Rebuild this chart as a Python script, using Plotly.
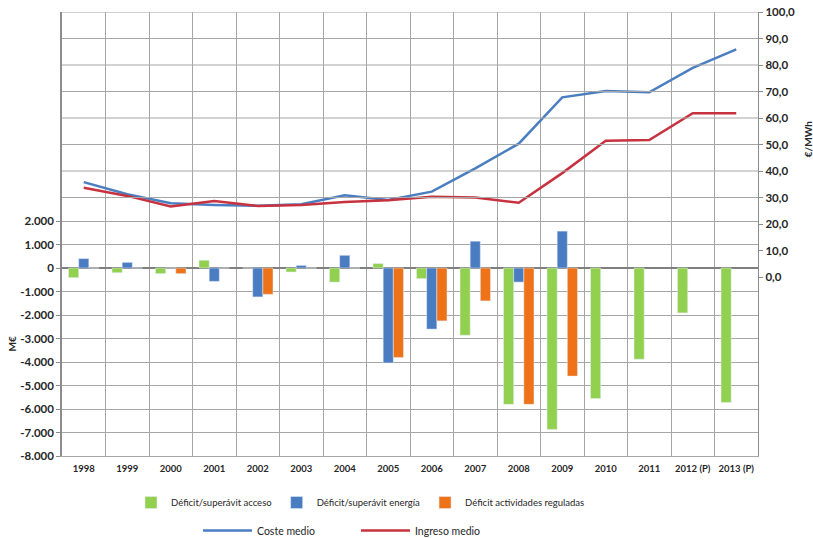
import plotly.graph_objects as go

# Categories (years; last two are forecasts)
years = ["1998", "1999", "2000", "2001", "2002", "2003", "2004", "2005",
         "2006", "2007", "2008", "2009", "2010", "2011", "2012 (P)", "2013 (P)"]

# Annual deficit / surplus, M€
deficit_acceso = [-410, -200, -240, 330, 0, -170, -600, 190,
                  -450, -2860, -5800, -6870, -5550, -3880, -1910, -5720]
deficit_energia = [400, 240, 0, -570, -1230, 110, 540, -4040,
                   -2600, 1140, -600, 1570, None, None, None, None]
deficit_reguladas = [0, 0, -240, 0, -1120, 0, 0, -3810,
                     -2250, -1400, -5800, -4600, None, None, None, None]

# Average cost and average revenue, €/MWh
coste_medio = [35.8, 31.2, 27.8, 27.2, 26.9, 27.5, 30.8, 29.1,
               32.2, 41.0, 50.3, 67.8, 70.2, 69.7, 78.9, 85.9]
ingreso_medio = [33.7, 30.6, 26.6, 28.7, 26.8, 27.2, 28.3, 29.0,
                 30.3, 30.0, 28.0, 39.2, 51.4, 51.7, 61.8, 61.8]

# Axis ticks
left_ticks = [2000, 1000, 0, -1000, -2000, -3000, -4000, -5000, -6000, -7000, -8000]
left_labels = ["2.000", "1.000", "0", "-1.000", "-2.000", "-3.000", "-4.000",
               "-5.000", "-6.000", "-7.000", "-8.000"]
right_ticks = [0, 10, 20, 30, 40, 50, 60, 70, 80, 90, 100]
right_labels = ["0,0", "10,0", "20,0", "30,0", "40,0", "50,0", "60,0",
                "70,0", "80,0", "90,0", "100,0"]
# €/MWh gridlines only appear in the upper panel, above the bars
right_grid = [30, 40, 50, 60, 70, 80, 90, 100]

GREEN = "#92D050"
BLUE = "#4A7CC2"
ORANGE = "#EE7218"
LINE_BLUE = "#4A7EC0"
LINE_RED = "#C8323F"
GRID = "#A6A6A6"
AXIS = "#8C8C8C"
TXT = "#262626"
FONT = "Lato"

# Vertical layout in pixels: both scales share the full plot height
W, H = 813, 538
PLOT_TOP, PLOT_BOTTOM = 12, 456
BAR_TOP = 221        # where the M€ scale reaches its maximum
LINE_ZERO = 277      # where the €/MWh scale is zero
M_MAX, M_MIN = 2000, -8000
E_MAX = 100

m_per_px = (M_MAX - M_MIN) / (PLOT_BOTTOM - BAR_TOP)
y_range = [M_MIN, M_MAX + (BAR_TOP - PLOT_TOP) * m_per_px]
e_per_px = E_MAX / (LINE_ZERO - PLOT_TOP)
y2_range = [-(PLOT_BOTTOM - LINE_ZERO) * e_per_px, E_MAX]

fig = go.Figure()

# upper-panel horizontal grid, spanning the full category range
n = len(years)
grid_x, grid_y = [], []
for e in right_grid:
    grid_x += [-0.5, n - 0.5, None]
    grid_y += [e, e, None]
fig.add_scatter(x=grid_x, y=grid_y, mode="lines", xaxis="x2", yaxis="y2",
                line=dict(color=GRID, width=1), hoverinfo="skip",
                showlegend=False)

fig.add_bar(x=years, y=deficit_acceso, name="Déficit/superávit acceso",
            marker_color=GREEN, yaxis="y", legend="legend")
fig.add_bar(x=years, y=deficit_energia, name="Déficit/superávit energía",
            marker_color=BLUE, yaxis="y", legend="legend")
fig.add_bar(x=years, y=deficit_reguladas, name="Déficit actividades reguladas",
            marker_color=ORANGE, yaxis="y", legend="legend")

fig.add_scatter(x=years, y=coste_medio, name="Coste medio", mode="lines",
                line=dict(color=LINE_BLUE, width=2.5), yaxis="y2", legend="legend2")
fig.add_scatter(x=years, y=ingreso_medio, name="Ingreso medio", mode="lines",
                line=dict(color=LINE_RED, width=2.5), yaxis="y2", legend="legend2")

ytick_font = dict(family=FONT, size=11.5, color=TXT, weight="bold")
xtick_font = dict(family=FONT, size=9.5, color=TXT, weight="bold")
title_font = dict(family=FONT, size=10, color=TXT, weight="bold")

fig.update_layout(
    width=W, height=H,
    margin=dict(l=62, r=55, t=PLOT_TOP, b=H - PLOT_BOTTOM),
    paper_bgcolor="white", plot_bgcolor="white",
    font=dict(family=FONT, size=10, color=TXT),
    barmode="group", bargap=0.3, bargroupgap=0,
    xaxis=dict(
        type="category", tickson="boundaries", showgrid=True,
        gridcolor=GRID, gridwidth=1, ticks="", tickfont=xtick_font,
        tickangle=0, automargin=False, ticklabelstandoff=4,
        showline=True, linecolor=GRID, linewidth=1,
    ),
    xaxis2=dict(
        overlaying="x", range=[-0.5, n - 0.5], visible=False,
    ),
    yaxis=dict(
        range=y_range,
        tickvals=left_ticks, ticktext=left_labels, tickfont=ytick_font,
        showgrid=True, gridcolor=GRID, gridwidth=1,
        zeroline=True, zerolinecolor="#7F7F7F", zerolinewidth=1.5,
        showline=True, linecolor=AXIS, linewidth=1.5,
        ticks="outside", ticklen=4, tickcolor=AXIS,
        automargin=False,
    ),
    yaxis2=dict(
        overlaying="y", side="right", range=y2_range,
        tickvals=right_ticks, ticktext=right_labels, tickfont=ytick_font,
        showgrid=False, zeroline=False,
        showline=True, linecolor=AXIS, linewidth=1.2,
        ticks="outside", ticklen=4, tickcolor=AXIS,
        automargin=False,
    ),
    legend=dict(
        orientation="h", xref="container", yref="container",
        x=131 / W, y=1 - 488 / H, xanchor="left", yanchor="top",
        font=dict(family=FONT, size=9.5, color=TXT),
        bgcolor="rgba(0,0,0,0)", traceorder="normal",
    ),
    legend2=dict(
        orientation="h", xref="container", yref="container",
        x=198 / W, y=1 - 516 / H, xanchor="left", yanchor="top",
        entrywidth=94, entrywidthmode="pixels", itemwidth=49,
        font=dict(family=FONT, size=10.5, color=TXT),
        bgcolor="rgba(0,0,0,0)", traceorder="normal",
    ),
    annotations=[
        # axis titles, centred on their own panels
        dict(text="M€", textangle=-90, font=title_font, showarrow=False,
             xref="paper", x=-50 / (W - 62 - 55),
             yref="y", y=(M_MAX + M_MIN) / 2 - 250, xanchor="center", yanchor="middle"),
        dict(text="€/MWh", textangle=-90, font=title_font, showarrow=False,
             xref="paper", x=1 + (808 - (W - 55)) / (W - 62 - 55),
             yref="y2", y=E_MAX / 2 + 2, xanchor="center", yanchor="middle"),
    ],
)

fig.write_html("out.html")
